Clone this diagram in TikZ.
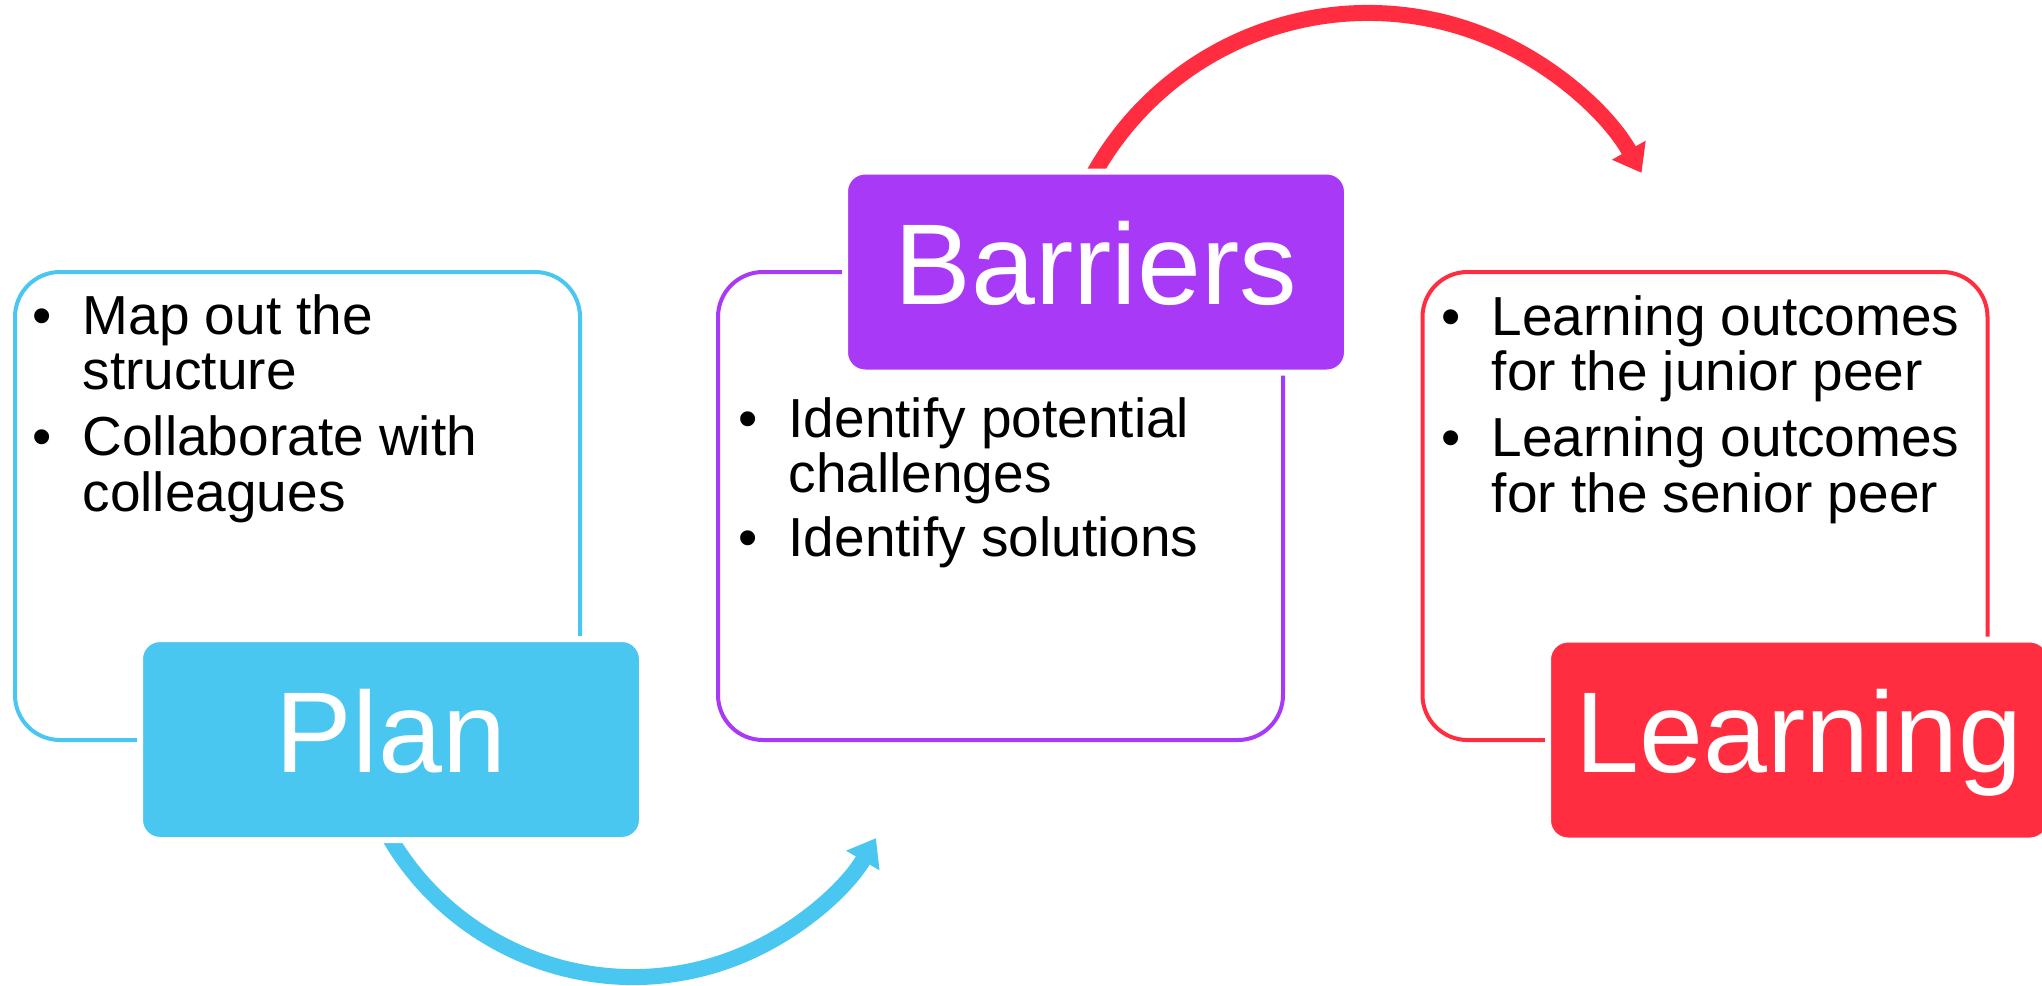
\documentclass[tikz,border=0pt]{standalone}
\usepackage{fontspec}
\setmainfont{Liberation Sans}
\usetikzlibrary{arrows.meta}
\definecolor{planblue}{RGB}{74,199,240}
\definecolor{barpurple}{RGB}{168,57,247}
\definecolor{learnred}{RGB}{255,45,63}
\newcommand{\titlefont}{\fontsize{32.7pt}{39pt}\selectfont}
\newcommand{\bodyfont}{\fontsize{15.65pt}{15.93pt}\selectfont}
\newcommand{\bitem}[1]{\par\hangindent=5mm\hangafter=1\noindent\makebox[5mm][l]{\textbullet}#1}
\newcommand{\bullets}[1]{\parbox[t]{54mm}{\bodyfont #1}}

\begin{document}
\begin{tikzpicture}[x=0.1mm, y=0.1mm,
    outlinebox/.style={draw, line width=0.4mm, rounded corners=4.5mm, minimum width=56.5mm, minimum height=46.8mm, inner sep=0pt},
    stagebox/.style={draw=white, line width=0.6mm, rounded corners=2mm, minimum width=50.2mm, minimum height=20.1mm, inner sep=0pt, text=white, font=\titlefont, text height=8.5mm, text depth=2mm},
    bullettext/.style={anchor=base west, inner sep=0pt},
    cyclearrow/.style={line width=1.6mm, -{Triangle[length=2.6mm, width=3.7mm]}}]
    \useasboundingbox (0,0) rectangle (2042,985);

    % Outline panels
    \node[outlinebox, draw=planblue] (planpanel) at (297.5,479) {};
    \node[outlinebox, draw=barpurple] (barpanel) at (1000.5,479) {};
    \node[outlinebox, draw=learnred] (learnpanel) at (1705,479) {};

    % Curved arrows
    \coordinate (lowhub) at (633,290);
    \coordinate (highhub) at (1368,658);
    \draw[cyclearrow, planblue] ([shift={(205:282)}]lowhub) arc[start angle=205, end angle=329.5, radius=282];
    \draw[cyclearrow, learnred] ([shift={(155:314)}]highhub) arc[start angle=155, end angle=29.4, radius=314];

    % Stage boxes
    \node[stagebox, fill=planblue] (plan) at (391,245.5) {Plan};
    \node[stagebox, fill=barpurple] (barriers) at (1096,713) {Barriers};
    \node[stagebox, fill=learnred] (learning) at (1799,245) {Learning};

    % Bullet texts
    \node[bullettext] (plantext) at (32,651) {\bullets{\bitem{Map out the\newline structure}\par\vspace{1mm}\bitem{Collaborate with\newline colleagues}}};
    \node[bullettext] (bartext) at (738,548) {\bullets{\bitem{Identify potential\newline challenges}\par\vspace{0.8mm}\bitem{Identify solutions}}};
    \node[bullettext] (learntext) at (1441,650) {\bullets{\bitem{Learning outcomes\newline for the junior peer}\par\vspace{1mm}\bitem{Learning outcomes\newline for the senior peer}}};
\end{tikzpicture}
\end{document}
